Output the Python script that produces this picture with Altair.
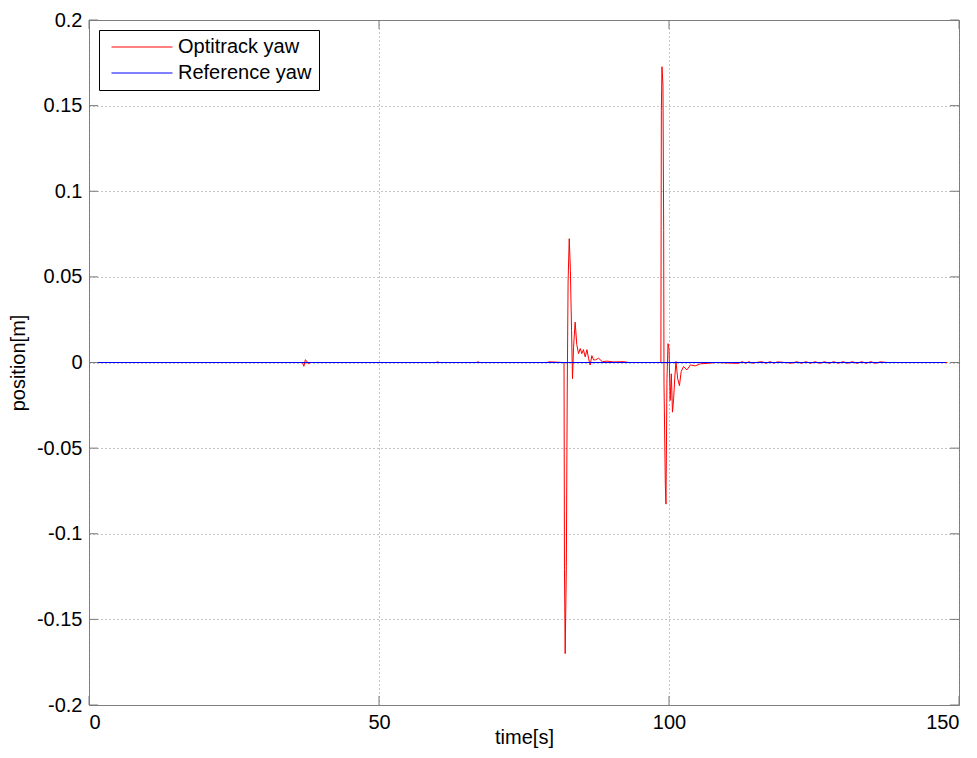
import altair as alt
import pandas as pd

# Optitrack yaw samples (time [s], yaw)
t_opt = [0, 36.8, 37.05, 37.3, 37.55, 37.8, 38.2, 59.8, 60.1, 60.4, 66.8, 67.1, 67.4,
         79.0, 79.3, 81.9, 81.98, 82.1, 82.3, 82.45, 82.6, 82.8, 83.0, 83.2, 83.36,
         83.54, 83.82, 84.1, 84.4, 84.7, 84.97, 85.25, 85.55, 85.85, 86.13, 86.4,
         86.7, 87.0, 87.3, 87.86, 88.5, 89.3, 90.5, 92.2, 93.0,
         98.6, 98.68, 98.79, 98.96, 99.08, 99.14, 99.37, 99.48, 99.65, 99.83, 100.0,
         100.2, 100.4, 100.6, 100.8, 101.0, 101.2, 101.5, 101.8, 102.1, 102.5, 103.1,
         103.7, 104.5, 105.4, 106.9, 108.0,
         112.0, 112.6, 113.2, 113.8, 114.3, 116.0, 116.7, 117.4, 118.1, 118.7,
         121.2, 122.0, 122.8, 123.6, 124.4, 125.2, 126.0, 126.8, 127.6, 128.4,
         129.2, 130.0, 130.8, 131.6, 132.4, 133.2, 134.0, 134.8, 135.6, 136.4,
         137.6, 148.0]
yaw_opt = [0, 0, -0.0022, 0.0016, 0.0008, -0.0008, 0, 0, 0.0004, 0, 0, 0.0004, 0,
           0, 0.0004, 0, -0.121, -0.170, -0.119, -0.019, 0.047, 0.0723, 0.0538, 0.0187, -0.0095,
           0.0089, 0.0236, 0.0105, 0.0052, 0.0082, 0.0052, 0.0075, 0.0033, 0.0075, 0.0025, -0.0015,
           0.004, 0.0015, 0.0015, 0.0025, 0.0005, 0.0008, 0.0003, 0.0005, 0,
           0, 0.147, 0.1727, 0.162, 0.0772, -0.0125, -0.072, -0.0827, -0.0095, 0.011, 0.008,
           -0.0222, -0.0066, -0.029, -0.0212, -0.0086, 0.0006, -0.0095, -0.0135, -0.0053, -0.0023, -0.0043,
           -0.0014, -0.002, -0.0008, -0.0004, 0,
           -0.0005, 0.0005, -0.0005, 0.0005, -0.0004, 0.0005, -0.0005, 0.0005, -0.0004, 0.0004,
           -0.0004, 0.0005, -0.0005, 0.0005, -0.0005, 0.0005, -0.0005, 0.0005, -0.0005, 0.0005,
           -0.0005, 0.0005, -0.0005, 0.0005, -0.0005, 0.0005, -0.0005, 0.0005, -0.0005, 0.0004,
           0, 0]

# Reference yaw
t_ref = [0, 147.7]
yaw_ref = [0, 0]

x_ticks = [0, 50, 100, 150]
y_ticks = [-0.2, -0.15, -0.1, -0.05, 0, 0.05, 0.1, 0.15, 0.2]

W, H = 870, 685
FRAME = "#7a7a7a"

df = pd.concat([
    pd.DataFrame({"time": t_opt, "yaw": yaw_opt, "series": "Optitrack yaw"}),
    pd.DataFrame({"time": t_ref, "yaw": yaw_ref, "series": "Reference yaw"}),
], ignore_index=True)
df["order"] = range(len(df))

font = "Liberation Sans"

xscale = alt.Scale(domain=[0, 150], nice=False, zero=False)
yscale = alt.Scale(domain=[-0.2, 0.2], nice=False, zero=False)

lines = alt.Chart(df).mark_line(strokeWidth=1, clip=True).encode(
    x=alt.X("time:Q", scale=xscale, title="time[s]",
            axis=alt.Axis(values=x_ticks, grid=True, gridDash=[1, 3], gridColor="#8a8a8a",
                          gridOpacity=1, tickSize=0, labelPadding=7, domain=False,
                          titleX=W / 2, titleY=38, titleBaseline="alphabetic",
                          titleAlign="center")),
    y=alt.Y("yaw:Q", scale=yscale, title="position[m]",
            axis=alt.Axis(values=y_ticks, grid=True, gridDash=[1, 3], gridColor="#8a8a8a",
                          gridOpacity=1, tickSize=0, labelPadding=7, domain=False,
                          titleX=-65, titleY=H / 2, titleBaseline="alphabetic",
                          titleAlign="center", titleAngle=270,
                          labelExpr="toString(datum.value)")),
    color=alt.Color("series:N",
                    scale=alt.Scale(domain=["Optitrack yaw", "Reference yaw"],
                                    range=["#ff0000", "#0000ff"]),
                    legend=alt.Legend(title=None, orient="top-left", offset=10,
                                      symbolType="stroke", symbolSize=3720,
                                      symbolStrokeWidth=1, labelFontSize=20,
                                      labelFont=font, strokeColor="black",
                                      fillColor="white", padding=7, rowPadding=6,
                                      clipHeight=20, symbolOffset=5, labelOffset=5,
                                      labelColor="black")),
    order="order:Q",
    detail="series:N",
)

xt = pd.DataFrame({"v": x_ticks})
yt = pd.DataFrame({"v": y_ticks})
tick_bottom = alt.Chart(xt).mark_rule(color=FRAME, strokeWidth=1).encode(
    x=alt.X("v:Q", scale=xscale), y=alt.value(H), y2=alt.value(H - 9))
tick_top = alt.Chart(xt).mark_rule(color=FRAME, strokeWidth=1).encode(
    x=alt.X("v:Q", scale=xscale), y=alt.value(0), y2=alt.value(9))
tick_left = alt.Chart(yt).mark_rule(color=FRAME, strokeWidth=1).encode(
    y=alt.Y("v:Q", scale=yscale), x=alt.value(0), x2=alt.value(9))
tick_right = alt.Chart(yt).mark_rule(color=FRAME, strokeWidth=1).encode(
    y=alt.Y("v:Q", scale=yscale), x=alt.value(W), x2=alt.value(W - 9))

chart = alt.layer(lines, tick_bottom, tick_top, tick_left, tick_right).properties(
    width=W, height=H,
    autosize=alt.AutoSizeParams(type="none"),
    padding={"left": 81, "top": 12, "right": 10, "bottom": 45},
).configure_view(stroke=FRAME, strokeWidth=1).configure_axis(
    labelFont=font, titleFont=font, labelFontSize=20, titleFontSize=20,
    labelColor="black", titleColor="black", titleFontWeight="normal",
)

chart.save("out.html", embed_options={"renderer": "svg", "actions": False})
